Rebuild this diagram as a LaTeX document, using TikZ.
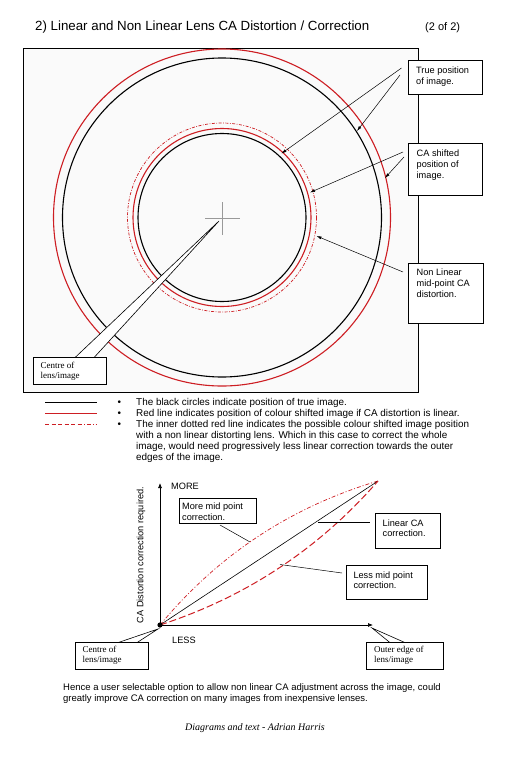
\documentclass[tikz,border=0pt]{standalone}
\usepackage{fontspec}
\setmainfont{Liberation Sans}
\newfontfamily\serifa{Liberation Serif}
\usetikzlibrary{arrows.meta,calc}
\definecolor{cared}{RGB}{205,30,35}
\begin{document}
\begin{tikzpicture}[x=1pt,y=-1pt,
  txt/.style={font=\fontsize{9.2}{11}\selectfont, inner sep=0pt, align=left},
  ltxt/.style={font=\fontsize{9.9}{11}\selectfont, inner sep=0pt, align=left},
  stxt/.style={font=\serifa\fontsize{9}{10}\selectfont, inner sep=0pt, align=left},
  boxn/.style={draw, fill=white, line width=0.7pt, inner sep=0pt, anchor=north west},
  blk/.style={line width=1.1pt},
  redc/.style={cared, line width=1.1pt},
  redd/.style={cared, line width=0.7pt, dash pattern=on 3pt off 1.5pt on 0.8pt off 1.5pt},
  pointer/.style={line width=0.5pt, -{Latex[length=5pt,width=3pt]}},
  wedge/.style={fill=white, draw, line width=0.6pt},
  axis/.style={line width=0.7pt, -{Latex[length=5pt,width=4pt]}},
]
\useasboundingbox (0,0) rectangle (506,768);
% title
\node[font=\fontsize{13.3}{15}\selectfont, inner sep=0pt, anchor=base west] (title) at (35,30.6) {2) Linear and Non Linear Lens CA Distortion / Correction};
\node[font=\fontsize{11}{13}\selectfont, inner sep=0pt, anchor=base west] (page) at (425,30.3) {(2 of 2)};

% frame
\draw[line width=0.8pt, fill=black!2] (23,48) rectangle (418,392);

% circles
\coordinate (c) at (222,217.5);
\draw[redc] (c) circle[radius=168.5];
\draw[blk] (c) circle[radius=159.5];
\draw[redd] (c) circle[radius=94.5];
\draw[redc] (c) circle[radius=89];
\draw[blk] (c) circle[radius=84];

% centre wedge + cross
\filldraw[wedge] (75,357.6) -- (219,221) -- (94,357.6);
\draw[gray!80, line width=0.7pt] (205,218) -- (240,218) (222,202) -- (222,235);
\node[boxn, minimum width=73, minimum height=27] (cbox) at (33,357) {};
\node[stxt, anchor=north west] (ctext) at (40.5,361.5) {Centre of\\lens/image};

% callout boxes right
\node[boxn, minimum width=74, minimum height=34] (tp) at (408,60) {};
\node[txt, anchor=north west] (tpt) at (416,66.5) {True position\\of image.};
\node[boxn, minimum width=74, minimum height=52] (cs) at (408,143) {};
\node[txt, anchor=north west] (cst) at (416.5,149.3) {CA shifted\\position of\\image.};
\node[boxn, minimum width=75, minimum height=60] (nl) at (408,263) {};
\node[txt, anchor=north west] (nlt) at (416.5,268.8) {Non Linear\\mid-point CA\\distortion.};

\coordinate (tp1) at (401.5,68);
\coordinate (tp2) at (400,75);
\coordinate (a1) at (281.5,153.5);
\coordinate (a2) at (357,131);
\draw[pointer] (tp1) -- (a1);
\draw[pointer] (tp2) -- (a2);
\coordinate (cs1) at (403,152);
\coordinate (cs2) at (404,157);
\coordinate (b1) at (310,192.5);
\coordinate (b2) at (385,178);
\draw[pointer] (cs1) -- (b1);
\draw[pointer] (cs2) -- (b2);
\coordinate (nl1) at (403,272);
\coordinate (d1) at (316.5,236);
\draw[pointer] (nl1) -- (d1);

% legend
\draw[line width=0.9pt] (45,402) -- (97,402);
\draw[cared, line width=0.9pt] (45,413) -- (97,413);
\draw[cared, line width=0.8pt, dash pattern=on 4pt off 2.5pt] (45,424) -- (83,424);
\draw[cared, line width=0.8pt, dash pattern=on 0.8pt off 2pt on 4pt off 2pt] (84,424) -- (97,424);
\foreach \yy/\nm in {405.3/b1, 416.3/b2, 427.3/b3}
  \node[ltxt, anchor=base west] (bul\nm) at (117.5,\yy) {\textbullet};
\node[ltxt, anchor=base west] (l1) at (136,405.3) {The black circles indicate position of true image.};
\node[ltxt, anchor=base west] (l2) at (136,416.3) {Red line indicates position of colour shifted image if CA distortion is linear.};
\node[ltxt, anchor=north west] (l3) at (136,420.4) {The inner dotted red line indicates the possible colour shifted image position\\with a non linear distorting lens. Which in this case to correct the whole\\image, would need progressively less linear correction towards the outer\\edges of the image.};

% graph
\coordinate (O) at (160,625);
\coordinate (T) at (378,481);
\coordinate (ytop) at (160,483);
\coordinate (xend) at (373,625);
\draw[axis] (O) -- (ytop);
\draw[axis] (O) -- (xend);
\node[txt, anchor=base west] (more) at (171,489.3) {MORE};
\node[txt, anchor=base west] (less) at (172,643.3) {LESS};
\node[txt, rotate=90, anchor=center] (ylab) at (141,555) {CA Distortion correction required.};
\draw[cared, line width=0.7pt, dash pattern=on 4pt off 2pt on 1pt off 2pt] (O) .. controls (218,555) and (290.7,507) .. (T);
\draw[line width=0.6pt] (O) -- (T);
\draw[cared, line width=1pt, dash pattern=on 7pt off 3pt] (O) .. controls (246,597) and (318.7,549) .. (T);
\fill (O) circle[radius=2.6];

\node[boxn, minimum width=77, minimum height=25] (mb) at (179,498) {};
\node[txt, anchor=north west] (mbt) at (182,502.7) {More mid point\\correction.};
\node[boxn, minimum width=65, minimum height=35] (lb) at (375,513) {};
\node[txt, anchor=north west, font=\fontsize{9.2}{10}\selectfont] (lbt) at (382.5,520) {Linear CA\\correction.};
\node[boxn, minimum width=81, minimum height=34] (sb) at (346,565) {};
\node[txt, anchor=north west, font=\fontsize{9.2}{10}\selectfont] (sbt) at (353.3,571.7) {Less mid point\\correction.};

\coordinate (m1) at (220,525);
\coordinate (m2) at (250,542);
\draw[line width=0.5pt] (m1) -- (m2);
\coordinate (li1) at (318,522.5);
\coordinate (li2) at (370,522.5);
\draw[line width=0.5pt] (li1) -- (li2);
\coordinate (s1) at (280,564.5);
\coordinate (s2) at (342,573);
\draw[line width=0.5pt] (s1) -- (s2);

% bottom callouts
\filldraw[wedge] (118,642.6) -- (158,629) -- (137,642.6);
\node[boxn, minimum width=73, minimum height=27] (cb2) at (75,642) {};
\node[stxt, anchor=north west] (cb2t) at (82.5,645.5) {Centre of\\lens/image};
\filldraw[wedge] (390,642.6) -- (372,628) -- (405,642.6);
\node[boxn, minimum width=77, minimum height=27] (ob) at (366,642) {};
\node[stxt, anchor=north west] (obt) at (374,645.5) {Outer edge of\\lens/image};

% footer
\node[font=\fontsize{9.5}{10.4}\selectfont, inner sep=0pt, align=left, anchor=north west] (foot) at (63,683.6) {Hence a user selectable option to allow non linear CA adjustment across the image, could\\greatly improve CA correction on many images from inexpensive lenses.};
\node[font=\serifa\itshape\fontsize{10}{12}\selectfont, inner sep=0pt, anchor=base] (auth) at (255,730.5) {Diagrams and text - Adrian Harris};
\end{tikzpicture}
\end{document}
